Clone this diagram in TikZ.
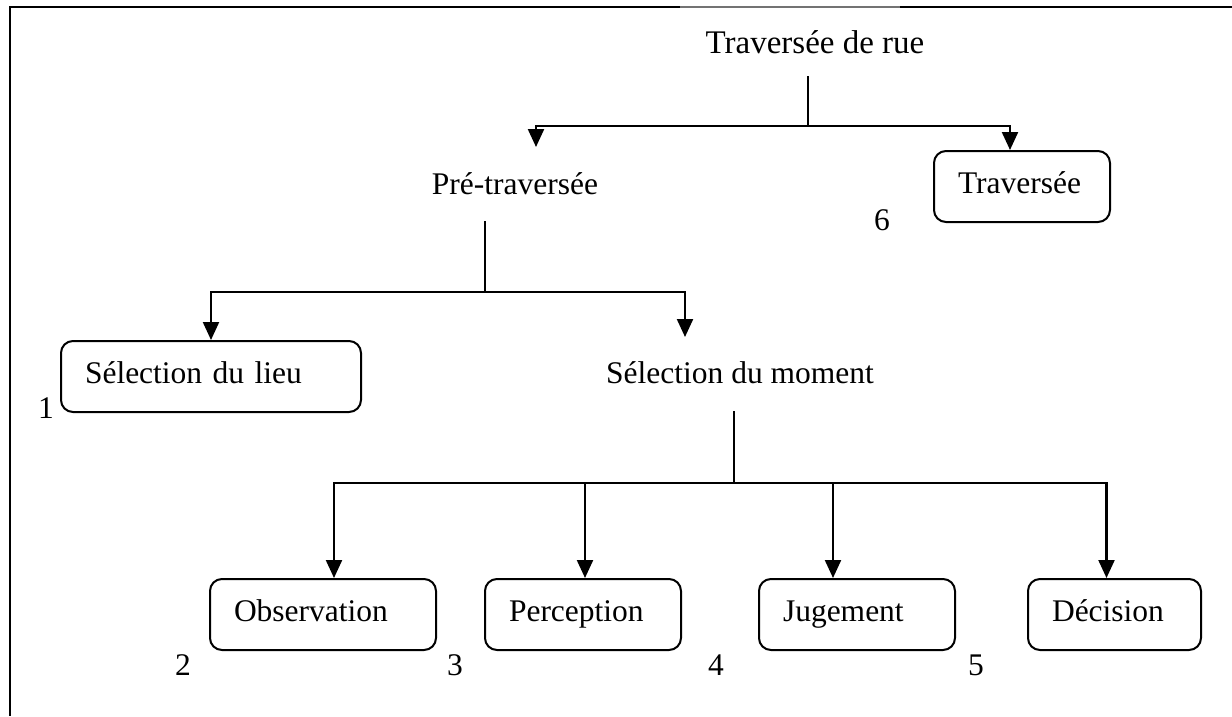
\documentclass[tikz,border=0pt]{standalone}
\usepackage{fontspec}
\setmainfont{Liberation Serif}
\usetikzlibrary{arrows.meta}
\begin{document}
\begin{tikzpicture}[x=1pt,y=-1pt,
  every node/.style={font=\fontsize{31.5}{36}\selectfont, inner sep=0pt},
  label/.style={anchor=center},
  stepbox/.style={draw, line width=2pt, rounded corners=12pt, inner xsep=24pt,
                  align=left, text height=21pt, text depth=7pt,
                  minimum height=71pt, anchor=north west},
  link/.style={line width=2.2pt},
  arr/.style={line width=2.2pt, -{Triangle[length=18pt,width=16pt]}},
  frame/.style={line width=2.6pt}]
\useasboundingbox (0,0) rectangle (1232,716);

% open frame: top and left edges only
\draw[frame] (10,7) -- (1232,7);
\draw[frame, black!55] (680,7) -- (900,7);
\draw[frame] (10,6) -- (10,716);

% level 0
\node[label, font=\fontsize{33}{38}\selectfont] (root) at (815,42) {Traversée de rue};
% level 1
\node[label] (pre) at (515,184) {Pré-traversée};
\node[stepbox, text width=128pt] (trav) at (933,150) {Traversée};
\node[label] (n6) at (882,220) {6};
% level 2
\node[stepbox, text width=252pt] (lieu) at (60,340) {Sélection du lieu};
\node[label] (n1) at (46,408) {1};
\node[label] (moment) at (740,373) {Sélection du moment};
% level 3
\node[stepbox, text width=178pt] (obs)  at (209,578) {Observation};
\node[stepbox, text width=148pt] (perc) at (484,578) {Perception};
\node[stepbox, text width=148pt] (jug)  at (758,578) {Jugement};
\node[stepbox, text width=125pt] (dec)  at (1027,578) {Décision};
\node[label] (n2) at (183,665) {2};
\node[label] (n3) at (455,665) {3};
\node[label] (n4) at (716,665) {4};
\node[label] (n5) at (976,665) {5};

% branch points and arrow ends
\coordinate (rs) at (808,76);
\coordinate (rj) at (808,126);
\coordinate (pt) at (536,147);
\coordinate (ps) at (485,221);
\coordinate (pj) at (485,292);
\coordinate (mt) at (685,337);
\coordinate (ms) at (734,411);
\coordinate (mj) at (734,483);

% Traversée de rue
\draw[link] (rs) -- (rj);
\draw[arr] (rj) -| (pt);
\draw[arr] (rj) -| ([xshift=-12pt]trav.north);

% Pré-traversée
\draw[link] (ps) -- (pj);
\draw[arr] (pj) -| (lieu.north);
\draw[arr] (pj) -| (mt);

% Sélection du moment
\draw[link] (ms) -- (mj);
\draw[arr] (mj) -| ([xshift=11pt]obs.north);
\draw[arr] (mj) -| ([xshift=2pt]perc.north);
\draw[arr] (mj) -| ([xshift=-24pt]jug.north);
\draw[arr] (mj) -| ([xshift=-8pt]dec.north);
\end{tikzpicture}
\end{document}
